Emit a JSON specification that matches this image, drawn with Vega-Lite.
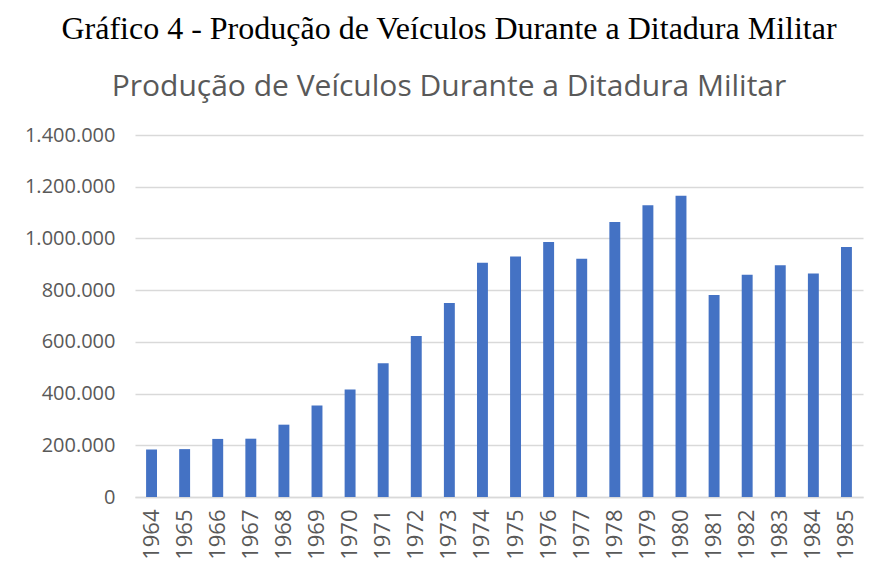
{
  "$schema": "https://vega.github.io/schema/vega-lite/v6.json",
  "width": 728,
  "height": 362,
  "autosize": {"type": "none"},
  "padding": {"left": 135, "top": 135, "right": 16, "bottom": 69},
  "background": "white",
  "config": {
    "locale": {"number": {"decimal": ",", "thousands": ".", "grouping": [3], "currency": ["R$", ""]}},
    "view": {"stroke": null},
    "font": "Open Sans"
  },
  "title": {
    "text": "Gráfico 4 - Produção de Veículos Durante a Ditadura Militar",
    "subtitle": "Produção de Veículos Durante a Ditadura Militar",
    "font": "Liberation Serif",
    "fontSize": 32,
    "fontWeight": "normal",
    "color": "black",
    "subtitleFont": "Open Sans",
    "subtitleFontSize": 30,
    "subtitleColor": "#595959",
    "subtitlePadding": 26,
    "anchor": "middle",
    "frame": "group",
    "dx": -50,
    "offset": 22
  },
  "data": {
    "values": [
      {"ano": "1964", "producao": 183707},
      {"ano": "1965", "producao": 185187},
      {"ano": "1966", "producao": 224609},
      {"ano": "1967", "producao": 225487},
      {"ano": "1968", "producao": 279715},
      {"ano": "1969", "producao": 353700},
      {"ano": "1970", "producao": 416089},
      {"ano": "1971", "producao": 516964},
      {"ano": "1972", "producao": 622171},
      {"ano": "1973", "producao": 750376},
      {"ano": "1974", "producao": 905920},
      {"ano": "1975", "producao": 930235},
      {"ano": "1976", "producao": 986611},
      {"ano": "1977", "producao": 921193},
      {"ano": "1978", "producao": 1064014},
      {"ano": "1979", "producao": 1127966},
      {"ano": "1980", "producao": 1165174},
      {"ano": "1981", "producao": 780883},
      {"ano": "1982", "producao": 859270},
      {"ano": "1983", "producao": 896462},
      {"ano": "1984", "producao": 864653},
      {"ano": "1985", "producao": 966708}
    ]
  },
  "mark": {"type": "bar", "color": "#4472C4"},
  "encoding": {
    "x": {
      "field": "ano",
      "type": "ordinal",
      "scale": {"paddingInner": 0.67, "paddingOuter": 0.335},
      "axis": {
        "title": null,
        "labelAngle": -90,
        "labelAlign": "right",
        "labelBaseline": "middle",
        "labelFontSize": 22,
        "labelColor": "#595959",
        "labelPadding": 12,
        "labelOverlap": false,
        "labelBound": false,
        "ticks": false,
        "domainColor": "#d9d9d9",
        "domainWidth": 1.5
      }
    },
    "y": {
      "field": "producao",
      "type": "quantitative",
      "scale": {"domain": [0, 1400000], "nice": false},
      "axis": {
        "title": null,
        "values": [0, 200000, 400000, 600000, 800000, 1000000, 1200000, 1400000],
        "format": ",d",
        "labelFontSize": 20,
        "labelColor": "#595959",
        "labelPadding": 20,
        "ticks": false,
        "domain": false,
        "gridColor": "#d9d9d9",
        "gridWidth": 1.5
      }
    }
  }
}
